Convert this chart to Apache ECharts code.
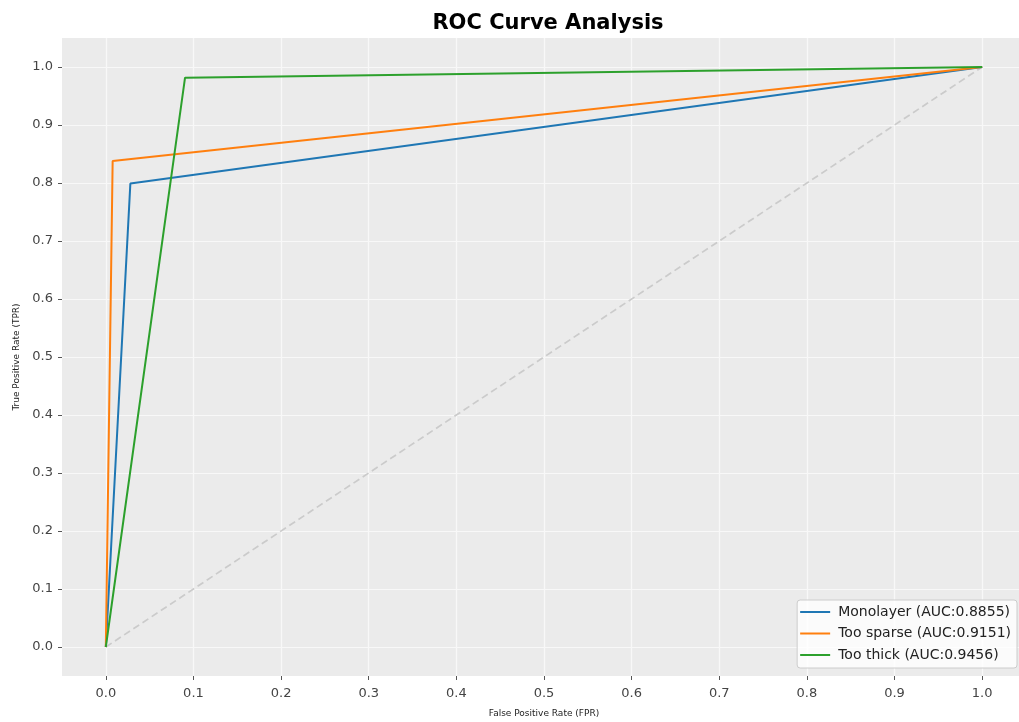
<!DOCTYPE html>
<html>
<head>
<meta charset="utf-8">
<script src="https://cdn.jsdelivr.net/npm/echarts@6/dist/echarts.min.js"></script>
<style>
html,body{margin:0;padding:0;background:#fff;}
#chart{width:1019px;height:722px;}
</style>
</head>
<body>
<div id="chart"></div>
<script>
const seriesNames = ['Monolayer (AUC:0.8855)', 'Too sparse (AUC:0.9151)', 'Too thick (AUC:0.9456)'];
const monoFPR = [0, 0.028, 1];
const monoTPR = [0, 0.799, 1];
const sparseFPR = [0, 0.0078, 1];
const sparseTPR = [0, 0.838, 1];
const thickFPR = [0, 0.0904, 1];
const thickTPR = [0, 0.9816, 1];
const diagFPR = [0, 1];
const diagTPR = [0, 1];
const tickValues = [0, 0.1, 0.2, 0.3, 0.4, 0.5, 0.6, 0.7, 0.8, 0.9, 1.0];
const colors = ['#1f77b4', '#ff7f0e', '#2ca02c'];

function pairs(xs, ys) { return xs.map((x, i) => [x, ys[i]]); }

const FONT = 'DejaVu Sans';
const chart = echarts.init(document.getElementById('chart'), null, {renderer: 'canvas'});

const axisCommon = {
  type: 'value',
  min: -0.05,
  max: 1.05,
  axisLine: {show: false, onZero: false},
  axisTick: {show: true, inside: false, length: 4, lineStyle: {color: '#555', width: 1}, customValues: tickValues},
  axisLabel: {color: '#444', fontSize: 13, fontFamily: FONT, customValues: tickValues, formatter: v => v.toFixed(1)},
  splitLine: {show: true, lineStyle: {color: '#f8f8f8', width: 1.2}},
  nameTextStyle: {color: '#222', fontSize: 9, fontFamily: FONT},
  nameLocation: 'middle'
};

const option = {
  backgroundColor: '#ffffff',
  animation: false,
  title: {
    text: 'ROC Curve Analysis',
    left: 543, top: 8, textAlign: 'center',
    textStyle: {fontFamily: FONT, fontWeight: 'bold', fontSize: 21, color: '#000'}
  },
  grid: {left: 62, top: 38, width: 964, height: 638, show: true, backgroundColor: '#EBEBEB', borderWidth: 0,
         outerBoundsMode: 'none', containLabel: false},
  xAxis: Object.assign({}, axisCommon, {
    name: 'False Positive Rate (FPR)', nameGap: 33,
    axisLabel: Object.assign({}, axisCommon.axisLabel, {margin: 11})
  }),
  yAxis: Object.assign({}, axisCommon, {
    name: 'True Positive Rate (TPR)', nameGap: 41, nameRotate: 90,
    axisLabel: Object.assign({}, axisCommon.axisLabel, {margin: 9})
  }),
  legend: {
    data: seriesNames,
    orient: 'vertical',
    right: 2, bottom: 54,
    icon: 'rect', itemWidth: 30, itemHeight: 2, itemGap: 7.5,
    padding: [5, 6, 6, 3],
    backgroundColor: 'rgba(255,255,255,0.8)',
    borderColor: '#cccccc', borderWidth: 1, borderRadius: 3,
    textStyle: {fontFamily: FONT, fontSize: 14, color: '#222', padding: [0, 0, 0, 3]}
  },
  series: [
    {
      name: 'diag', type: 'line', data: pairs(diagFPR, diagTPR), symbol: 'none', silent: true,
      lineStyle: {color: '#cbcbcb', width: 1.7, type: [7, 4]}, z: 1
    },
    {name: seriesNames[0], type: 'line', data: pairs(monoFPR, monoTPR), symbol: 'none', color: colors[0], lineStyle: {width: 2}},
    {name: seriesNames[1], type: 'line', data: pairs(sparseFPR, sparseTPR), symbol: 'none', color: colors[1], lineStyle: {width: 2}},
    {name: seriesNames[2], type: 'line', data: pairs(thickFPR, thickTPR), symbol: 'none', color: colors[2], lineStyle: {width: 2}}
  ]
};
chart.setOption(option);
</script>
</body>
</html>
